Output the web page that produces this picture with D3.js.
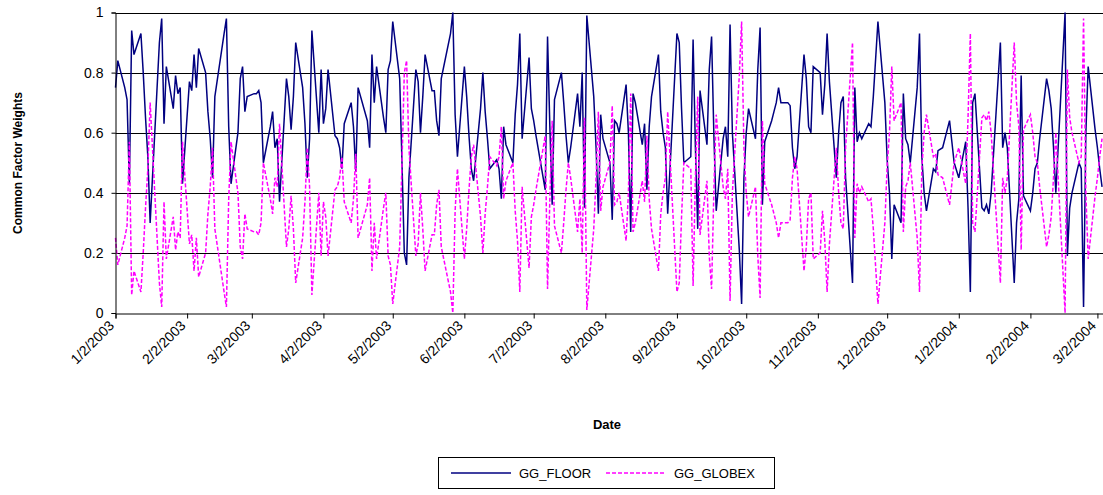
<!DOCTYPE html>
<html>
<head>
<meta charset="utf-8">
<script src="https://cdn.jsdelivr.net/npm/d3@7"></script>
<style>
  html, body { margin: 0; padding: 0; background: #fff; }
  svg { display: block; font-family: "Liberation Sans", Arial, sans-serif; }
</style>
</head>
<body>
<svg id="chart" width="1103" height="495"></svg>
<script>
// ---- categories: trading days (weekdays minus exchange holidays) ----
const startDate = "2003-01-02";
const lastDate = "2004-03-04";
const holidays = ["2003-01-20","2003-02-17","2003-04-18","2003-05-26","2003-07-04",
  "2003-09-01","2003-11-27","2003-12-25","2004-01-01","2004-01-19","2004-02-16"];

// ---- x tick labels ----
const tickDates = ["2003-01-02","2003-02-02","2003-03-02","2003-04-02","2003-05-02","2003-06-02",
  "2003-07-02","2003-08-02","2003-09-02","2003-10-02","2003-11-02","2003-12-02",
  "2004-01-02","2004-02-02","2004-03-02"];
const yTicks = [0, 0.2, 0.4, 0.6, 0.8, 1];

// ---- series: GG_FLOOR, by month ----
const floorJan03 = [0.75,0.84,0.75,0.71,0.43,0.94,0.86,0.93,0.80,0.65,0.52,0.30,0.90,0.98,0.63,0.82,0.68,0.79,0.73,0.75,0.43];
const floorFeb03 = [0.77,0.74,0.86,0.75,0.88,0.80,0.67,0.58,0.45,0.72,0.93,0.98,0.62,0.43,0.60,0.78,0.82,0.67,0.72];
const floorMar03 = [0.73,0.73,0.74,0.70,0.50,0.62,0.67,0.55,0.58,0.37,0.78,0.72,0.61,0.72,0.90,0.75,0.63,0.45,0.58,0.94,0.60];
const floorApr03 = [0.81,0.63,0.68,0.81,0.59,0.58,0.55,0.48,0.63,0.70,0.62,0.47,0.75,0.64,0.55,0.86,0.70,0.82,0.65,0.60,0.81];
const floorMay03 = [0.84,0.97,0.78,0.50,0.20,0.16,0.45,0.81,0.77,0.60,0.72,0.86,0.74,0.74,0.64,0.59,0.78,0.93,1.00,0.66,0.52];
const floorJun03 = [0.82,0.72,0.59,0.48,0.44,0.68,0.80,0.67,0.58,0.48,0.51,0.48,0.38,0.62,0.56,0.50,0.66,0.76,0.93,0.58,0.85];
const floorJul03 = [0.68,0.64,0.59,0.41,0.92,0.62,0.36,0.71,0.80,0.70,0.59,0.50,0.55,0.73,0.62,0.80,0.35,0.99,0.72,0.55,0.33,0.66];
const floorAug03 = [0.58,0.50,0.31,0.64,0.63,0.60,0.76,0.60,0.27,0.73,0.70,0.56,0.63,0.41,0.62,0.72,0.86,0.67,0.60,0.55,0.33];
const floorSep03 = [0.93,0.90,0.68,0.50,0.52,0.91,0.55,0.28,0.74,0.56,0.81,0.92,0.59,0.34,0.58,0.62,0.52,0.96,0.60,0.21,0.03];
const floorOct03 = [0.45,0.60,0.68,0.58,0.81,0.95,0.36,0.57,0.64,0.67,0.70,0.75,0.70,0.70,0.69,0.55,0.48,0.52,0.86,0.78,0.62,0.60,0.82];
const floorNov03 = [0.80,0.66,0.76,0.93,0.77,0.45,0.60,0.70,0.72,0.45,0.10,0.75,0.57,0.60,0.58,0.63,0.62,0.72,0.97];
const floorDec03 = [0.70,0.51,0.40,0.18,0.36,0.30,0.73,0.58,0.56,0.50,0.75,0.93,0.52,0.40,0.34,0.48,0.47,0.54,0.55,0.64,0.57,0.50];
const floorJan04 = [0.45,0.57,0.35,0.07,0.70,0.73,0.35,0.34,0.36,0.33,0.40,0.90,0.55,0.60,0.55,0.10,0.30,0.38,0.79,0.39];
const floorFeb04 = [0.34,0.40,0.48,0.50,0.58,0.78,0.74,0.68,0.55,0.40,1.00,0.19,0.35,0.40,0.50,0.48,0.02,0.60,0.82];
const floorMar04 = [0.61,0.55,0.48,0.42];

// ---- series: GG_GLOBEX, by month ----
const globexJan03 = [0.25,0.16,0.25,0.29,0.57,0.06,0.14,0.07,0.20,0.35,0.48,0.70,0.10,0.02,0.37,0.18,0.32,0.21,0.27,0.25,0.57];
const globexFeb03 = [0.23,0.26,0.14,0.25,0.12,0.20,0.33,0.42,0.55,0.28,0.07,0.02,0.38,0.57,0.40,0.22,0.18,0.33,0.28];
const globexMar03 = [0.27,0.27,0.26,0.30,0.50,0.38,0.33,0.45,0.42,0.63,0.22,0.28,0.39,0.28,0.10,0.25,0.37,0.55,0.42,0.06,0.40];
const globexApr03 = [0.19,0.37,0.32,0.19,0.41,0.42,0.45,0.52,0.37,0.30,0.38,0.53,0.25,0.36,0.45,0.14,0.30,0.18,0.35,0.40,0.19];
const globexMay03 = [0.16,0.03,0.22,0.50,0.80,0.84,0.55,0.19,0.23,0.40,0.28,0.14,0.26,0.26,0.36,0.41,0.22,0.07,0.00,0.34,0.48];
const globexJun03 = [0.18,0.28,0.41,0.52,0.56,0.32,0.20,0.33,0.42,0.52,0.49,0.52,0.62,0.38,0.44,0.50,0.34,0.24,0.07,0.42,0.15];
const globexJul03 = [0.32,0.36,0.41,0.59,0.08,0.38,0.64,0.29,0.20,0.30,0.41,0.50,0.45,0.27,0.38,0.20,0.65,0.01,0.28,0.45,0.67,0.34];
const globexAug03 = [0.42,0.50,0.69,0.36,0.37,0.40,0.24,0.40,0.73,0.27,0.30,0.44,0.37,0.59,0.38,0.28,0.14,0.33,0.40,0.45,0.67];
const globexSep03 = [0.07,0.10,0.32,0.50,0.48,0.09,0.45,0.72,0.26,0.44,0.19,0.08,0.41,0.66,0.42,0.38,0.48,0.04,0.40,0.79,0.97];
const globexOct03 = [0.55,0.40,0.32,0.42,0.19,0.05,0.64,0.43,0.36,0.33,0.30,0.25,0.30,0.30,0.31,0.45,0.52,0.48,0.14,0.22,0.38,0.40,0.18];
const globexNov03 = [0.20,0.34,0.24,0.07,0.23,0.55,0.40,0.30,0.28,0.55,0.90,0.25,0.43,0.40,0.42,0.37,0.38,0.28,0.03];
const globexDec03 = [0.30,0.49,0.60,0.82,0.64,0.70,0.27,0.42,0.44,0.50,0.25,0.07,0.48,0.60,0.66,0.52,0.53,0.46,0.45,0.36,0.43,0.50];
const globexJan04 = [0.55,0.43,0.65,0.93,0.30,0.27,0.65,0.66,0.64,0.67,0.60,0.10,0.45,0.40,0.45,0.90,0.70,0.62,0.21,0.61];
const globexFeb04 = [0.66,0.60,0.52,0.50,0.42,0.22,0.26,0.32,0.45,0.60,0.00,0.81,0.65,0.60,0.50,0.52,0.98,0.40,0.18];
const globexMar04 = [0.39,0.45,0.52,0.58];

const seriesNames = ["GG_FLOOR", "GG_GLOBEX"];

// ---- build ----
const parse = d3.utcParse("%Y-%m-%d");
const fmtIso = d3.utcFormat("%Y-%m-%d");
const days = d3.utcDays(parse(startDate), d3.utcDay.offset(parse(lastDate), 1))
  .filter(d => d.getUTCDay() !== 0 && d.getUTCDay() !== 6 && !holidays.includes(fmtIso(d)));

const floorVals = [].concat(floorJan03, floorFeb03, floorMar03, floorApr03, floorMay03, floorJun03,
  floorJul03, floorAug03, floorSep03, floorOct03, floorNov03, floorDec03, floorJan04, floorFeb04, floorMar04);
const globexVals = [].concat(globexJan03, globexFeb03, globexMar03, globexApr03, globexMay03, globexJun03,
  globexJul03, globexAug03, globexSep03, globexOct03, globexNov03, globexDec03, globexJan04, globexFeb04, globexMar04);

const n = Math.min(days.length, floorVals.length, globexVals.length);
const floorData = d3.range(n).map(i => ({date: days[i], v: floorVals[i]}));
const globexData = d3.range(n).map(i => ({date: days[i], v: globexVals[i]}));

const svg = d3.select("#chart");
svg.append("rect").attr("width", 1103).attr("height", 495).attr("fill", "#fff");

const x = d3.scaleUtc()
  .domain([parse(startDate), new Date(Date.UTC(2004, 2, 4, 10))])
  .range([115.5, 1103]);
const y = d3.scaleLinear().domain([0, 1]).range([313, 12.5]);

// gridlines
svg.append("g").selectAll("line").data(yTicks.filter(t => t > 0)).join("line")
  .attr("x1", 115.5).attr("x2", 1103)
  .attr("y1", d => Math.round(y(d)) + 0.5).attr("y2", d => Math.round(y(d)) + 0.5)
  .attr("stroke", "#000").attr("stroke-width", 1);

// series
const line = d3.line().x(d => x(d.date)).y(d => y(d.v));
svg.append("path").datum(floorData).attr("d", line)
  .attr("fill", "none").attr("stroke", "#000080").attr("stroke-width", 1.5);
svg.append("path").datum(globexData).attr("d", line)
  .attr("fill", "none").attr("stroke", "#ff00ff").attr("stroke-width", 1.5)
  .attr("stroke-dasharray", "4,2");

// y axis
const yAxis = d3.axisLeft(y).tickValues(yTicks).tickSize(4).tickPadding(8)
  .tickFormat(d => d3.format("")(+d.toFixed(1)));
const gy = svg.append("g").attr("transform", "translate(115.5,0)").call(yAxis);
gy.select(".domain").attr("stroke", "#000");
gy.selectAll("text").attr("font-size", 14).attr("fill", "#000")
  .attr("font-family", "'Liberation Sans', Arial, sans-serif");

// x axis
const tickFmt = d3.utcFormat("%-m/%-d/%Y");
const xAxis = d3.axisBottom(x).tickValues(tickDates.map(parse)).tickSize(5).tickFormat(tickFmt);
const gx = svg.append("g").attr("transform", "translate(0,313.5)").call(xAxis);
gx.select(".domain").attr("stroke", "#000");
gx.selectAll("text")
  .attr("font-size", 14).attr("fill", "#000")
  .attr("font-family", "'Liberation Sans', Arial, sans-serif")
  .attr("text-anchor", "end")
  .attr("dy", null).attr("y", null)
  .attr("transform", "translate(-1,13) rotate(-45)");

// axis titles
svg.append("text").attr("x", 607).attr("y", 429).attr("text-anchor", "middle")
  .attr("font-weight", "bold").attr("font-size", 13).text("Date");
svg.append("text").attr("transform", "translate(22,163) rotate(-90)").attr("text-anchor", "middle")
  .attr("font-weight", "bold").attr("font-size", 12).text("Common Factor Weights");

// legend
const lg = svg.append("g");
lg.append("rect").attr("x", 438.5).attr("y", 457.5).attr("width", 336).attr("height", 31)
  .attr("fill", "#fff").attr("stroke", "#000");
lg.append("line").attr("x1", 451).attr("x2", 511).attr("y1", 473).attr("y2", 473)
  .attr("stroke", "#000080").attr("stroke-width", 1.5);
lg.append("text").attr("x", 519).attr("y", 478).attr("font-size", 13).text(seriesNames[0]);
lg.append("line").attr("x1", 606).attr("x2", 666).attr("y1", 473).attr("y2", 473)
  .attr("stroke", "#ff00ff").attr("stroke-width", 1.5).attr("stroke-dasharray", "4,2");
lg.append("text").attr("x", 674).attr("y", 478).attr("font-size", 13).text(seriesNames[1]);
</script>
</body>
</html>
